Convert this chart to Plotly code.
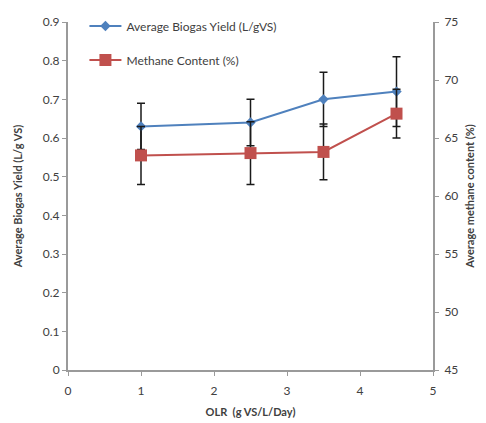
import plotly.graph_objects as go

# Organic loading rate (g VS/L/Day)
olr = [1.0, 2.5, 3.5, 4.5]

# Average biogas yield (L/g VS) with standard deviations
biogas_yield = [0.63, 0.64, 0.70, 0.72]
biogas_err = [0.06, 0.06, 0.07, 0.09]

# Methane content (%) with standard deviations
methane = [63.5, 63.7, 63.8, 67.1]
methane_err = [2.5, 2.7, 2.4, 2.1]

left_ticks = [0, 0.1, 0.2, 0.3, 0.4, 0.5, 0.6, 0.7, 0.8, 0.9]
right_ticks = [45, 50, 55, 60, 65, 70, 75]
x_ticks = [0, 1, 2, 3, 4, 5]

BLUE = "#4F81BD"
RED = "#C0504D"
AXIS = "#9a9a9a"
FONT = "Lato, Open Sans, sans-serif"

fig = go.Figure()

fig.add_trace(go.Scatter(
    x=olr, y=biogas_yield, name="Average Biogas Yield (L/gVS)",
    mode="lines+markers", legendgroup="a",
    line=dict(color=BLUE, width=2),
    marker=dict(symbol="diamond", size=8, color=BLUE),
    error_y=dict(type="data", array=biogas_err, color="#1a1a1a",
                 thickness=1.5, width=4),
    yaxis="y",
))

fig.add_trace(go.Scatter(
    x=olr, y=methane, name="Methane Content (%)",
    mode="lines+markers", legendgroup="b",
    line=dict(color=RED, width=2),
    marker=dict(symbol="square", size=12, color=RED),
    error_y=dict(type="data", array=methane_err, color="#1a1a1a",
                 thickness=1.5, width=4),
    yaxis="y2",
))

fig.update_layout(
    width=486, height=423,
    margin=dict(l=68, r=53, t=17, b=53),
    paper_bgcolor="white", plot_bgcolor="white",
    font=dict(family=FONT, size=11, color="#404040"),
    showlegend=True,
    legend=dict(
        x=0.045, y=1.03, xanchor="left", yanchor="top",
        bgcolor="rgba(0,0,0,0)", font=dict(size=12, color="#404040"),
        traceorder="grouped", tracegroupgap=15, itemwidth=32,
    ),
    xaxis=dict(
        range=[0, 5], tickvals=x_ticks, showgrid=False, zeroline=False,
        showline=True, linecolor=AXIS, linewidth=2, automargin=False,
        ticks="outside", ticklen=4, tickcolor=AXIS, ticklabelstandoff=5,
        tickfont=dict(size=12, color="#404040"),
        title=dict(text="<b>OLR  (g VS/L/Day)</b>", font=dict(size=11), standoff=11),
    ),
    yaxis=dict(
        range=[0, 0.9], tickvals=left_ticks, showgrid=False, zeroline=False,
        showline=True, linecolor=AXIS, linewidth=2, automargin=False,
        ticks="outside", ticklen=4, tickcolor=AXIS,
        tickfont=dict(size=12, color="#404040"),
        title=dict(text="<b>Average Biogas Yield (L/g VS)</b>", font=dict(size=11), standoff=18),
    ),
    yaxis2=dict(
        range=[45, 75], tickvals=right_ticks, overlaying="y", side="right",
        showgrid=False, zeroline=False, automargin=False,
        showline=True, linecolor=AXIS, linewidth=2,
        ticks="outside", ticklen=4, tickcolor=AXIS, ticklabelstandoff=3,
        tickfont=dict(size=12, color="#404040"),
        title=dict(text="<b>Average methane content (%)</b>", font=dict(size=11), standoff=9),
    ),
)

fig.write_html("out.html")
